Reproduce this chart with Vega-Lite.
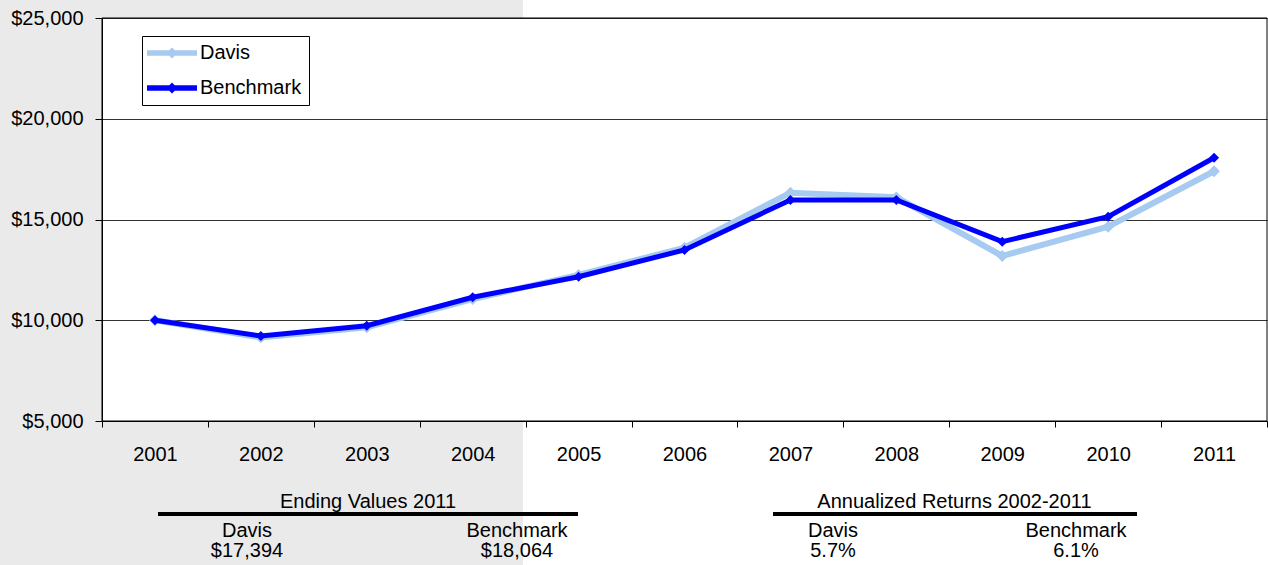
{
  "$schema": "https://vega.github.io/schema/vega-lite/v6.json",
  "width": 1268,
  "height": 565,
  "autosize": {"type": "none"},
  "padding": 0,
  "background": "#ffffff",
  "config": {
    "view": {"stroke": null, "fill": null},
    "font": "Liberation Sans",
    "text": {"font": "Liberation Sans", "fontSize": 20, "color": "#000000"}
  },
  "datasets": {
    "growth": [
      {"year": 2001, "series": "Davis", "value": 10000},
      {"year": 2002, "series": "Davis", "value": 9150},
      {"year": 2003, "series": "Davis", "value": 9650},
      {"year": 2004, "series": "Davis", "value": 11050},
      {"year": 2005, "series": "Davis", "value": 12250},
      {"year": 2006, "series": "Davis", "value": 13600},
      {"year": 2007, "series": "Davis", "value": 16330},
      {"year": 2008, "series": "Davis", "value": 16100},
      {"year": 2009, "series": "Davis", "value": 13190},
      {"year": 2010, "series": "Davis", "value": 14640},
      {"year": 2011, "series": "Davis", "value": 17394},
      {"year": 2001, "series": "Benchmark", "value": 10000},
      {"year": 2002, "series": "Benchmark", "value": 9220},
      {"year": 2003, "series": "Benchmark", "value": 9730},
      {"year": 2004, "series": "Benchmark", "value": 11140},
      {"year": 2005, "series": "Benchmark", "value": 12160},
      {"year": 2006, "series": "Benchmark", "value": 13490},
      {"year": 2007, "series": "Benchmark", "value": 15970},
      {"year": 2008, "series": "Benchmark", "value": 15970},
      {"year": 2009, "series": "Benchmark", "value": 13900},
      {"year": 2010, "series": "Benchmark", "value": 15140},
      {"year": 2011, "series": "Benchmark", "value": 18064}
    ],
    "summary": [
      {"series": "Davis", "ending": 17394, "annualized": 0.057},
      {"series": "Benchmark", "ending": 18064, "annualized": 0.061}
    ]
  },
  "resolve": {"scale": {"x": "independent", "y": "independent"}},
  "layer": [
    {
      "resolve": {"axis": {"y": "independent"}},
      "layer": [
        {
          "data": {"values": [{}]},
          "mark": {"type": "rect", "fill": {"gradient": "linear", "x1": 0, "x2": 1, "y1": 0, "y2": 0, "stops": [{"offset": 0, "color": "#eaeaea"}, {"offset": 0.4125, "color": "#eaeaea"}, {"offset": 0.4125, "color": "rgba(255,255,255,0)"}, {"offset": 1, "color": "rgba(255,255,255,0)"}]}},
          "encoding": {
            "y": {"datum": 5000, "type": "quantitative", "scale": {"domain": [5000, 25000], "range": [421, 18], "nice": false, "zero": false}, "axis": null},
            "y2": {"value": "height"}
          }
        },
        {
          "data": {"values": [{}]},
          "mark": {"type": "rect", "fill": {"gradient": "linear", "x1": 0, "x2": 1, "y1": 0, "y2": 0, "stops": [{"offset": 0, "color": "#eaeaea"}, {"offset": 0.4125, "color": "#eaeaea"}, {"offset": 0.4125, "color": "rgba(255,255,255,0)"}, {"offset": 1, "color": "rgba(255,255,255,0)"}]}},
          "encoding": {
            "y": {"datum": 25000, "type": "quantitative", "scale": {"domain": [5000, 25000], "range": [421, 18], "nice": false, "zero": false}, "axis": null},
            "y2": {"value": 0}
          }
        },
        {
          "data": {"values": [{}]},
          "mark": {"type": "rect", "fill": {"gradient": "linear", "x1": 0, "x2": 1, "y1": 0, "y2": 0, "stops": [{"offset": 0, "color": "#eaeaea"}, {"offset": 0.0804, "color": "#eaeaea"}, {"offset": 0.0804, "color": "rgba(255,255,255,0)"}, {"offset": 1, "color": "rgba(255,255,255,0)"}]}},
          "encoding": {
            "y": {"datum": 25000, "type": "quantitative", "scale": {"domain": [5000, 25000], "range": [421, 18], "nice": false, "zero": false}, "axis": null},
            "y2": {"datum": 5000}
          }
        },
        {
          "data": {"values": [{}]},
          "mark": {"type": "rect", "fill": null, "stroke": "#000000", "strokeWidth": 1},
          "encoding": {
            "x": {"datum": 2001, "type": "ordinal", "bandPosition": 0, "scale": {"type": "band", "domain": [2001, 2002, 2003, 2004, 2005, 2006, 2007, 2008, 2009, 2010, 2011], "range": [102, 1267], "paddingInner": 0, "paddingOuter": 0},
              "axis": {"title": null, "orient": "bottom", "offset": -144, "zindex": 1, "labelAngle": 0, "labelFontSize": 20, "labelFont": "Liberation Sans", "labelColor": "#000000", "labelPadding": 17, "tickSize": 6, "tickColor": "#000000", "tickBand": "extent", "domainColor": "#000000", "grid": false, "encode": {"ticks": {"y": {"value": -7}}}}},
            "x2": {"datum": 2011, "bandPosition": 1},
            "y": {"datum": 25000, "type": "quantitative", "scale": {"domain": [5000, 25000], "range": [421, 18], "nice": false, "zero": false}, "axis": null},
            "y2": {"datum": 5000}
          }
        },
        {
          "data": {"name": "growth"},
          "transform": [{"filter": "datum.series === 'Davis'"}],
          "mark": {"type": "line", "strokeWidth": 6},
          "encoding": {
            "x": {"field": "year", "type": "ordinal", "bandPosition": 0.5, "scale": {"type": "band", "domain": [2001, 2002, 2003, 2004, 2005, 2006, 2007, 2008, 2009, 2010, 2011], "range": [102, 1267], "paddingInner": 0, "paddingOuter": 0},
              "axis": {"title": null, "orient": "bottom", "offset": -144, "zindex": 1, "labelAngle": 0, "labelFontSize": 20, "labelFont": "Liberation Sans", "labelColor": "#000000", "labelPadding": 17, "tickSize": 6, "tickColor": "#000000", "tickBand": "extent", "domainColor": "#000000", "grid": false, "encode": {"ticks": {"y": {"value": -7}}}}},
            "y": {"field": "value", "type": "quantitative", "scale": {"domain": [5000, 25000], "range": [421, 18], "nice": false, "zero": false},
              "axis": {"title": null, "orient": "left", "offset": -102, "zindex": 0, "values": [5000, 10000, 15000, 20000, 25000], "labels": false, "ticks": false, "domain": false, "grid": true, "gridColor": "#333333", "gridWidth": 1}},
            "color": {"field": "series", "type": "nominal", "scale": {"domain": ["Davis", "Benchmark"], "range": ["#a6caf0", "#0000ff"]},
              "legend": {"orient": "none", "legendX": 142, "legendY": 36, "title": null, "strokeColor": "#000000", "fillColor": "#ffffff", "padding": 7, "symbolType": "M-2.5,-0.27L2.5,-0.27L2.5,0.27L-2.5,0.27Z M0,-0.55L0.55,0L0,0.55L-0.55,0Z", "symbolSize": 400, "symbolOffset": 13, "symbolStrokeWidth": 0, "labelFontSize": 20, "labelFont": "Liberation Sans", "labelColor": "#000000", "labelOffset": 18, "rowPadding": 15}}
          }
        },
        {
          "data": {"name": "growth"},
          "transform": [{"filter": "datum.series === 'Davis'"}],
          "mark": {"type": "point", "shape": "diamond", "filled": true, "size": 140, "opacity": 1},
          "encoding": {
            "x": {"field": "year", "type": "ordinal", "bandPosition": 0.5, "scale": {"type": "band", "domain": [2001, 2002, 2003, 2004, 2005, 2006, 2007, 2008, 2009, 2010, 2011], "range": [102, 1267], "paddingInner": 0, "paddingOuter": 0},
              "axis": {"title": null, "orient": "bottom", "offset": -144, "zindex": 1, "labelAngle": 0, "labelFontSize": 20, "labelFont": "Liberation Sans", "labelColor": "#000000", "labelPadding": 17, "tickSize": 6, "tickColor": "#000000", "tickBand": "extent", "domainColor": "#000000", "grid": false, "encode": {"ticks": {"y": {"value": -7}}}}},
            "y": {"field": "value", "type": "quantitative", "scale": {"domain": [5000, 25000], "range": [421, 18], "nice": false, "zero": false},
              "axis": {"title": null, "orient": "left", "offset": -102, "zindex": 1, "values": [5000, 10000, 15000, 20000, 25000], "format": "$,.0f", "labelFontSize": 20, "labelFont": "Liberation Sans", "labelColor": "#000000", "labelPadding": 12, "labelFlush": false, "labelOverlap": false, "tickSize": 7, "tickColor": "#000000", "domainColor": "#000000", "grid": false}},
            "color": {"field": "series", "type": "nominal", "scale": {"domain": ["Davis", "Benchmark"], "range": ["#a6caf0", "#0000ff"]}, "legend": null}
          }
        },
        {
          "data": {"name": "growth"},
          "transform": [{"filter": "datum.series === 'Benchmark'"}],
          "mark": {"type": "line", "strokeWidth": 5},
          "encoding": {
            "x": {"field": "year", "type": "ordinal", "bandPosition": 0.5, "scale": {"type": "band", "domain": [2001, 2002, 2003, 2004, 2005, 2006, 2007, 2008, 2009, 2010, 2011], "range": [102, 1267], "paddingInner": 0, "paddingOuter": 0},
              "axis": {"title": null, "orient": "bottom", "offset": -144, "zindex": 1, "labelAngle": 0, "labelFontSize": 20, "labelFont": "Liberation Sans", "labelColor": "#000000", "labelPadding": 17, "tickSize": 6, "tickColor": "#000000", "tickBand": "extent", "domainColor": "#000000", "grid": false, "encode": {"ticks": {"y": {"value": -7}}}}},
            "y": {"field": "value", "type": "quantitative", "scale": {"domain": [5000, 25000], "range": [421, 18], "nice": false, "zero": false}, "axis": null},
            "color": {"field": "series", "type": "nominal", "scale": {"domain": ["Davis", "Benchmark"], "range": ["#a6caf0", "#0000ff"]}, "legend": null}
          }
        },
        {
          "data": {"name": "growth"},
          "transform": [{"filter": "datum.series === 'Benchmark'"}],
          "mark": {"type": "point", "shape": "diamond", "filled": true, "size": 100, "opacity": 1},
          "encoding": {
            "x": {"field": "year", "type": "ordinal", "bandPosition": 0.5, "scale": {"type": "band", "domain": [2001, 2002, 2003, 2004, 2005, 2006, 2007, 2008, 2009, 2010, 2011], "range": [102, 1267], "paddingInner": 0, "paddingOuter": 0},
              "axis": {"title": null, "orient": "bottom", "offset": -144, "zindex": 1, "labelAngle": 0, "labelFontSize": 20, "labelFont": "Liberation Sans", "labelColor": "#000000", "labelPadding": 17, "tickSize": 6, "tickColor": "#000000", "tickBand": "extent", "domainColor": "#000000", "grid": false, "encode": {"ticks": {"y": {"value": -7}}}}},
            "y": {"field": "value", "type": "quantitative", "scale": {"domain": [5000, 25000], "range": [421, 18], "nice": false, "zero": false}, "axis": null},
            "color": {"field": "series", "type": "nominal", "scale": {"domain": ["Davis", "Benchmark"], "range": ["#a6caf0", "#0000ff"]}, "legend": null}
          }
        }
      ]
    },
    {
      "data": {"name": "summary"},
      "layer": [
        {
          "mark": {"type": "text", "baseline": "alphabetic", "fontSize": 20, "font": "Liberation Sans", "color": "#000000"},
          "encoding": {
            "x": {"field": "series", "type": "nominal", "scale": {"type": "point", "domain": ["Davis", "all", "Benchmark"], "range": [247, 517], "padding": 0}, "axis": null},
            "y": {"datum": "names", "type": "nominal", "scale": {"type": "point", "domain": ["names", "values"], "range": [537, 557], "padding": 0}, "axis": null},
            "text": {"field": "series", "type": "nominal"}
          }
        },
        {
          "mark": {"type": "text", "baseline": "alphabetic", "fontSize": 20, "font": "Liberation Sans", "color": "#000000"},
          "encoding": {
            "x": {"field": "series", "type": "nominal", "scale": {"type": "point", "domain": ["Davis", "all", "Benchmark"], "range": [247, 517], "padding": 0}, "axis": null},
            "y": {"datum": "values", "type": "nominal", "scale": {"type": "point", "domain": ["names", "values"], "range": [537, 557], "padding": 0}, "axis": null},
            "text": {"field": "ending", "type": "quantitative", "format": "$,.0f"}
          }
        },
        {
          "data": {"values": [{"heading": "Ending Values 2011"}]},
          "mark": {"type": "text", "baseline": "alphabetic", "fontSize": 20, "font": "Liberation Sans", "color": "#000000", "dx": -14, "dy": -29},
          "encoding": {
            "x": {"datum": "all", "type": "nominal", "scale": {"type": "point", "domain": ["Davis", "all", "Benchmark"], "range": [247, 517], "padding": 0}, "axis": null},
            "y": {"datum": "names", "type": "nominal", "scale": {"type": "point", "domain": ["names", "values"], "range": [537, 557], "padding": 0}, "axis": null},
            "text": {"field": "heading", "type": "nominal"}
          }
        },
        {
          "data": {"values": [{}]},
          "mark": {"type": "rule", "strokeWidth": 4, "color": "#000000", "xOffset": -89, "x2Offset": 61, "yOffset": -23},
          "encoding": {
            "x": {"datum": "Davis", "type": "nominal", "scale": {"type": "point", "domain": ["Davis", "all", "Benchmark"], "range": [247, 517], "padding": 0}, "axis": null},
            "x2": {"datum": "Benchmark"},
            "y": {"datum": "names", "type": "nominal", "scale": {"type": "point", "domain": ["names", "values"], "range": [537, 557], "padding": 0}, "axis": null}
          }
        }
      ]
    },
    {
      "data": {"name": "summary"},
      "layer": [
        {
          "mark": {"type": "text", "baseline": "alphabetic", "fontSize": 20, "font": "Liberation Sans", "color": "#000000"},
          "encoding": {
            "x": {"field": "series", "type": "nominal", "scale": {"type": "point", "domain": ["Davis", "all", "Benchmark"], "range": [833, 1076], "padding": 0}, "axis": null},
            "y": {"datum": "names", "type": "nominal", "scale": {"type": "point", "domain": ["names", "values"], "range": [537, 557], "padding": 0}, "axis": null},
            "text": {"field": "series", "type": "nominal"}
          }
        },
        {
          "mark": {"type": "text", "baseline": "alphabetic", "fontSize": 20, "font": "Liberation Sans", "color": "#000000"},
          "encoding": {
            "x": {"field": "series", "type": "nominal", "scale": {"type": "point", "domain": ["Davis", "all", "Benchmark"], "range": [833, 1076], "padding": 0}, "axis": null},
            "y": {"datum": "values", "type": "nominal", "scale": {"type": "point", "domain": ["names", "values"], "range": [537, 557], "padding": 0}, "axis": null},
            "text": {"field": "annualized", "type": "quantitative", "format": ".1%"}
          }
        },
        {
          "data": {"values": [{"heading": "Annualized Returns 2002-2011"}]},
          "mark": {"type": "text", "baseline": "alphabetic", "fontSize": 20, "font": "Liberation Sans", "color": "#000000", "dy": -29},
          "encoding": {
            "x": {"datum": "all", "type": "nominal", "scale": {"type": "point", "domain": ["Davis", "all", "Benchmark"], "range": [833, 1076], "padding": 0}, "axis": null},
            "y": {"datum": "names", "type": "nominal", "scale": {"type": "point", "domain": ["names", "values"], "range": [537, 557], "padding": 0}, "axis": null},
            "text": {"field": "heading", "type": "nominal"}
          }
        },
        {
          "data": {"values": [{}]},
          "mark": {"type": "rule", "strokeWidth": 4, "color": "#000000", "xOffset": -60, "x2Offset": 61, "yOffset": -23},
          "encoding": {
            "x": {"datum": "Davis", "type": "nominal", "scale": {"type": "point", "domain": ["Davis", "all", "Benchmark"], "range": [833, 1076], "padding": 0}, "axis": null},
            "x2": {"datum": "Benchmark"},
            "y": {"datum": "names", "type": "nominal", "scale": {"type": "point", "domain": ["names", "values"], "range": [537, 557], "padding": 0}, "axis": null}
          }
        }
      ]
    }
  ]
}
